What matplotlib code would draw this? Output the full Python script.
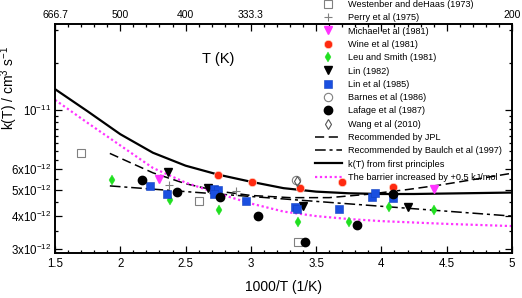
import numpy as np
import matplotlib
matplotlib.use("Agg")
import matplotlib.pyplot as plt
from matplotlib.ticker import FixedLocator, NullFormatter
from matplotlib.lines import Line2D

plt.rcParams['font.family'] = ['Liberation Sans', 'DejaVu Sans']

# 实验数据 (1000/T, k)
westenberg_x = [1.70, 2.60, 3.36]
westenberg_k = [6.91e-12, 4.53e-12, 3.20e-12]
perry_x = [2.37, 2.89]
perry_k = [5.24e-12, 4.95e-12]
michael_x = [2.30, 4.40]
michael_k = [5.52e-12, 5.06e-12]
wine_x = [2.745, 3.008, 3.376, 3.70, 4.09]
wine_k = [5.68e-12, 5.35e-12, 5.08e-12, 5.35e-12, 5.11e-12]
leu_x = [1.936, 2.38, 2.756, 3.363, 3.753, 4.06, 4.40]
leu_k = [5.44e-12, 4.60e-12, 4.20e-12, 3.80e-12, 3.80e-12, 4.31e-12, 4.20e-12]
lin82_x = [2.365, 2.675, 3.40, 4.20]
lin82_k = [5.85e-12, 5.10e-12, 4.35e-12, 4.33e-12]
lin85_x = [2.23, 2.355, 2.72, 2.75, 2.72, 2.96, 3.34, 3.35, 3.675, 3.93, 3.95, 4.085]
lin85_k = [5.17e-12, 4.85e-12, 5.06e-12, 4.99e-12, 4.84e-12, 4.53e-12,
           4.32e-12, 4.23e-12, 4.23e-12, 4.72e-12, 4.86e-12, 4.67e-12]
barnes_x = [3.345]
barnes_k = [5.44e-12]
lafage_x = [2.168, 2.432, 2.76, 3.055, 3.412, 3.815, 4.09]
lafage_k = [5.44e-12, 4.92e-12, 4.71e-12, 4.01e-12, 3.20e-12, 3.70e-12, 4.83e-12]
wang_x = [3.356]
wang_k = [5.42e-12]

# 曲线
jpl_x = [1.92, 2.25, 2.5, 2.75, 3.0, 3.3, 3.6, 3.9, 4.2, 4.45, 5.0]
jpl_k = [6.86e-12, 5.80e-12, 5.28e-12, 4.95e-12, 4.77e-12, 4.68e-12,
         4.68e-12, 4.82e-12, 5.02e-12, 5.22e-12, 5.78e-12]
baulch_x = [1.92, 5.0]
baulch_k = [5.18e-12, 3.99e-12]
kt_x = [1.5, 1.75, 2.0, 2.25, 2.5, 2.75, 3.0, 3.25, 3.5, 3.75, 4.0, 4.25, 4.5, 4.75, 5.0]
kt_k = [1.196e-11, 9.87e-12, 8.10e-12, 6.90e-12, 6.17e-12, 5.71e-12, 5.37e-12, 5.08e-12,
        4.93e-12, 4.86e-12, 4.83e-12, 4.83e-12, 4.85e-12, 4.87e-12, 4.89e-12]
barrier_x = [1.5, 1.75, 2.0, 2.25, 2.5, 2.75, 3.0, 3.25, 3.5, 3.75, 4.0, 4.5, 5.0]
barrier_k = [1.09e-11, 8.93e-12, 7.35e-12, 6.05e-12, 5.33e-12, 4.85e-12, 4.45e-12,
             4.15e-12, 3.99e-12, 3.89e-12, 3.82e-12, 3.73e-12, 3.66e-12]

top_ticks = [1.5, 2.0, 2.5, 3.0, 5.0]
top_labels = ["666.7", "500", "400", "333.3", "200"]

MAG = "#ff33ff"
GRAY = "#808080"
RED = "#ff2a10"
GREEN = "#20e020"
BLUE = "#1a4fe0"

fig = plt.figure(figsize=(5.22, 2.98), dpi=100)
ax = fig.add_axes([55/522, 1 - 253/298, 457/522, 229/298])

ax.plot(jpl_x, jpl_k, color="black", lw=1.1, dashes=(6, 3), zorder=2)
ax.plot(baulch_x, baulch_k, color="black", lw=1.1, dashes=(7, 2.5, 2, 2.5), zorder=2)
ax.plot(kt_x, kt_k, color="black", lw=1.6, zorder=2)
ax.plot(barrier_x, barrier_k, color=MAG, lw=1.6, dashes=(1, 1.2), zorder=2)

ms = 5.5
styles = [
    dict(marker="s", ms=ms, mfc="white", mec=GRAY, mew=0.8),
    dict(marker="+", ms=ms + 0.5, mec=GRAY, mew=0.8),
    dict(marker="v", ms=ms, color=MAG),
    dict(marker="o", ms=ms + 0.5, color=RED, mec="#ffd8c8", mew=0.5),
    dict(marker="d", ms=ms, color=GREEN, mew=0.3),
    dict(marker="v", ms=ms, color="black"),
    dict(marker="s", ms=ms, color=BLUE, mec="#1040c0", mew=0.4),
    dict(marker="o", ms=ms + 0.5, mfc="none", mec=GRAY, mew=0.8),
    dict(marker="o", ms=ms + 0.5, color="black"),
    dict(marker="d", ms=ms, mfc="none", mec="#555555", mew=0.8),
]
series = [(westenberg_x, westenberg_k), (perry_x, perry_k), (michael_x, michael_k),
          (wine_x, wine_k), (leu_x, leu_k), (lin82_x, lin82_k), (lin85_x, lin85_k),
          (barnes_x, barnes_k), (lafage_x, lafage_k), (wang_x, wang_k)]
for (xs, ks), st in zip(series, styles):
    ax.plot(xs, ks, ls="none", zorder=3, **st)

ax.set_xlim(1.5, 5.0)
ax.set_yscale("log")
ax.set_ylim(2.9e-12, 2.1e-11)

ax.xaxis.set_major_locator(FixedLocator(np.arange(1.5, 5.01, 0.5)))
ax.xaxis.set_minor_locator(FixedLocator(np.arange(1.5, 5.01, 0.1)))
ax.set_xticklabels(["1.5", "2", "2.5", "3", "3.5", "4", "4.5", "5"])

y_major = [3e-12, 4e-12, 5e-12, 6e-12, 1e-11]
ax.yaxis.set_major_locator(FixedLocator(y_major))
ax.set_yticklabels([r"3x10$^{\mathregular{-12}}$", r"4x10$^{\mathregular{-12}}$",
                    r"5x10$^{\mathregular{-12}}$", r"6x10$^{\mathregular{-12}}$",
                    r"10$^{\mathregular{-11}}$"])
y_minor = list(np.arange(3.5e-12, 1e-11, 0.5e-12)) + [1.5e-11, 2e-11]
ax.yaxis.set_minor_locator(FixedLocator(y_minor))
ax.yaxis.set_minor_formatter(NullFormatter())

ax.tick_params(which="both", direction="in", right=True, labelsize=8.3, width=0.9)
ax.tick_params(which="major", length=5)
ax.tick_params(which="minor", length=2.5)
ax.tick_params(axis="y", which="major", pad=3)

# 上方温度坐标
axt = ax.twiny()
axt.set_xlim(ax.get_xlim())
axt.xaxis.set_major_locator(FixedLocator(np.arange(1.5, 5.01, 0.5)))
axt.xaxis.set_minor_locator(FixedLocator(np.arange(1.5, 5.01, 0.1)))
lbls = []
for t in np.arange(1.5, 5.01, 0.5):
    lbls.append(top_labels[top_ticks.index(t)] if t in top_ticks else "")
axt.set_xticklabels(lbls)
axt.tick_params(which="both", direction="in", labelsize=7.5, width=0.9, pad=3)
axt.tick_params(which="major", length=5)
axt.tick_params(which="minor", length=2.5)

for a in (ax, axt):
    for s in a.spines.values():
        s.set_linewidth(1.2)

ax.text(2.75, 1.55e-11, "T (K)", fontsize=10.5, ha="center", va="center")
ax.set_xlabel("1000/T (1/K)", fontsize=10, labelpad=7)
ax.set_ylabel(r"k(T) / cm$^{\mathregular{3}}$ s$^{\mathregular{-1}}$", fontsize=10)
ax.yaxis.set_label_coords(-0.076, 0.72)

# 图例
handles = [Line2D([], [], ls="none", **st) for st in styles]
handles += [
    Line2D([], [], color="black", lw=1.1, dashes=(6, 3)),
    Line2D([], [], color="black", lw=1.1, dashes=(7, 2.5, 2, 2.5)),
    Line2D([], [], color="black", lw=1.6),
    Line2D([], [], color=MAG, lw=1.6, dashes=(1, 1.2)),
]
labels = ["Westenber and deHaas (1973)", "Perry et al (1975)", "Michael et al (1981)",
          "Wine et al (1981)", "Leu and Smith (1981)", "Lin (1982)", "Lin et al (1985)",
          "Barnes et al (1986)", "Lafage et al (1987)", "Wang et al (2010)",
          "Recommended by JPL", "Recommended by Baulch et al (1997)",
          "k(T) from first principles", "The barrier increased by +0.5 kJ/mol"]
fig.legend(handles, labels, loc="upper left", bbox_to_anchor=(315/522, 1.0),
           frameon=False, fontsize=6.6, borderpad=0, borderaxespad=0,
           handlelength=2.9, handletextpad=0.75, labelspacing=0.47)

fig.savefig("out.png", dpi=100)
